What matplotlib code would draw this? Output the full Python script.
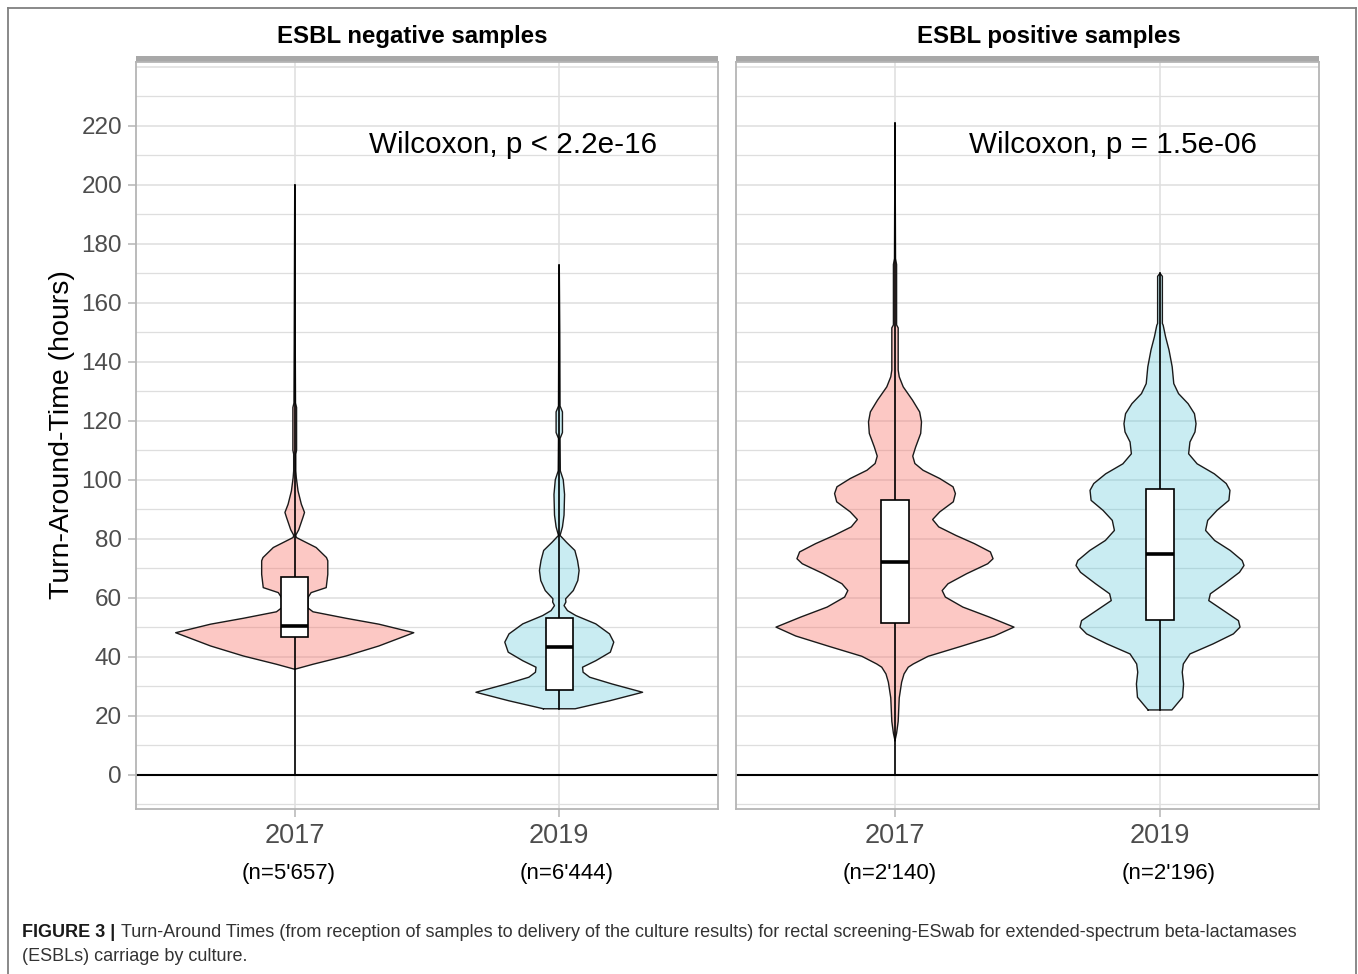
import matplotlib
matplotlib.use('Agg')
import matplotlib.pyplot as plt
from matplotlib.patches import Rectangle
from matplotlib.lines import Line2D

plt.rcParams['font.family'] = ['Liberation Sans', 'DejaVu Sans']

# ---- data ----
panel_titles = ['ESBL negative samples', 'ESBL positive samples']
years = ['2017', '2019']
n_labels = [["(n=5'657)", "(n=6'444)"], ["(n=2'140)", "(n=2'196)"]]
p_labels = ['Wilcoxon, p < 2.2e-16', 'Wilcoxon, p = 1.5e-06']

# violin outlines: TAT value (hours) and half-width (in category units)
neg17_y = [35.7, 37.4, 40.2, 43.6, 48.1, 51.0, 53.0, 55.2, 56.5, 60.0, 61.7, 63.4, 67.9,
           72.5, 73.6, 77.0, 80.4, 81.2, 83.0, 87.2, 88.9, 91.7, 96.2, 100.7, 103.0,
           108.7, 110.0, 124.5, 126.0, 146.0, 200.0]
neg17_w = [0.0, 0.069, 0.194, 0.318, 0.45, 0.318, 0.194, 0.069, 0.05, 0.05, 0.062, 0.119, 0.125,
           0.125, 0.12, 0.081, 0.006, 0.004, 0.015, 0.031, 0.037, 0.025, 0.0125, 0.006, 0.004,
           0.004, 0.007, 0.007, 0.003, 0.002, 0.0]

neg19_y = [22.3, 25.0, 27.9, 30.7, 33.0, 34.7, 36.4, 38.6, 41.5, 44.9, 47.7, 51.1, 53.9, 55.6,
           57.3, 58.5, 59.6, 62.4, 65.8, 69.2, 72.6, 76.0, 78.8, 81.1, 84.0, 88.0, 95.0, 100.0,
           103.0, 114.0, 116.0, 123.0, 125.0, 150.0, 172.8]
neg19_w = [0.06, 0.19, 0.315, 0.2, 0.115, 0.09, 0.088, 0.138, 0.193, 0.206, 0.19, 0.138, 0.063, 0.031,
           0.018, 0.025, 0.024, 0.053, 0.07, 0.075, 0.069, 0.059, 0.027, 0.003, 0.012, 0.018, 0.02, 0.015,
           0.004, 0.003, 0.012, 0.012, 0.003, 0.002, 0.0]

pos17_y = [11.5, 14.0, 18.0, 26.0, 31.3, 34.1, 36.4, 37.5, 40.1, 43.5, 47.0, 50.0, 53.4, 56.8,
           60.2, 62.4, 64.7, 68.1, 71.5, 73.2, 75.5, 78.3, 81.1, 84.0, 86.5, 89.1, 92.5, 95.3,
           97.6, 100.4, 103.2, 105.5, 108.0, 111.1, 115.7, 119.6, 123.0, 127.0, 131.5, 134.9,
           137.2, 151.5, 152.5, 173.0, 175.0, 221.0]
pos17_w = [0.0, 0.006, 0.012, 0.016, 0.025, 0.034, 0.05, 0.069, 0.125, 0.25, 0.375, 0.449, 0.356, 0.256,
           0.19, 0.178, 0.2, 0.27, 0.35, 0.37, 0.36, 0.3, 0.23, 0.165, 0.142, 0.169, 0.22, 0.228,
           0.219, 0.169, 0.106, 0.075, 0.067, 0.078, 0.097, 0.1, 0.093, 0.066, 0.031, 0.016,
           0.012, 0.012, 0.006, 0.006, 0.002, 0.0]

pos19_y = [21.9, 23.4, 26.2, 30.7, 34.7, 37.5, 40.9, 44.3, 47.7, 50.0, 52.2, 55.6, 59.0, 61.3,
           64.7, 68.6, 70.9, 72.6, 76.0, 79.4, 82.8, 86.2, 89.6, 93.0, 96.4, 98.7, 102.0, 105.4,
           108.8, 112.8, 116.2, 119.0, 122.4, 125.8, 129.2, 132.6, 138.3, 144.0, 148.5, 152.4,
           153.0, 169.0, 170.0]
pos19_w = [0.045, 0.059, 0.085, 0.089, 0.084, 0.088, 0.113, 0.2, 0.277, 0.302, 0.296, 0.24, 0.184, 0.19,
           0.243, 0.3, 0.317, 0.31, 0.265, 0.206, 0.172, 0.18, 0.215, 0.26, 0.264, 0.25, 0.205, 0.14,
           0.108, 0.113, 0.132, 0.136, 0.13, 0.106, 0.07, 0.052, 0.046, 0.034, 0.021, 0.012,
           0.009, 0.009, 0.0]

# box: q1, median, q3 ; line: min, max
neg17_box = [46.8, 50.4, 67.1]
neg19_box = [28.8, 43.2, 53.0]
pos17_box = [51.3, 72.1, 93.0]
pos19_box = [52.5, 74.8, 96.9]
neg17_range = [0.0, 200.0]
neg19_range = [22.3, 172.8]
pos17_range = [0.0, 221.0]
pos19_range = [21.9, 170.0]

fills = [('#F8766D', 0.4), ('#5BC8D9', 0.33)]

panels = [
    [(neg17_y, neg17_w, neg17_box, neg17_range), (neg19_y, neg19_w, neg19_box, neg19_range)],
    [(pos17_y, pos17_w, pos17_box, pos17_range), (pos19_y, pos19_w, pos19_box, pos19_range)],
]

W, H = 1358, 974
fig = plt.figure(figsize=(W / 100, H / 100), dpi=100)


def fx(px):
    return px / W


def fy(py):
    return 1 - py / H


panel_px = [(136, 718), (736, 1319)]
title_px = [412, 1049]
n_dx = [[-0.022, 0.027], [-0.019, 0.034]]  # small label shifts seen in the figure
top, bottom = 62, 809
grid_col = '#DEDEDE'
frame_col = '#B5B5B5'

for i, (x0, x1) in enumerate(panel_px):
    ax = fig.add_axes([fx(x0), fy(bottom), (x1 - x0) / W, (bottom - top) / H])
    ax.set_xlim(0.4, 2.6)
    ax.set_ylim(-11.7, 241.7)

    for v in range(-10, 241, 10):
        ax.axhline(v, color=grid_col, lw=1.1 if v % 20 == 0 else 0.9, zorder=0)
    for pos in (1, 2):
        ax.axvline(pos, color=grid_col, lw=1.1, zorder=0)
    ax.axhline(0, color='black', lw=1.5, zorder=1)

    for j, (vy, vw, box, rng) in enumerate(panels[i]):
        pos = j + 1
        xs = [pos - w for w in vw] + [pos + w for w in vw[::-1]]
        ys = list(vy) + list(vy[::-1])
        col, a = fills[j]
        ax.fill(xs, ys, facecolor=col, alpha=a, edgecolor='none', zorder=2)
        ax.plot(xs + [xs[0]], ys + [ys[0]], color='#1a1a1a', lw=1.0, zorder=2.5)
        ax.plot([pos, pos], rng, color='black', lw=1.2, zorder=3)
        q1, med, q3 = box
        ax.add_patch(Rectangle((pos - 0.052, q1), 0.104, q3 - q1, facecolor='white',
                               edgecolor='black', lw=1.2, zorder=4))
        ax.plot([pos - 0.052, pos + 0.052], [med, med], color='black', lw=2.6,
                solid_capstyle='butt', zorder=5)
        ax.text(pos + n_dx[i][j], -0.087, n_labels[i][j], transform=ax.get_xaxis_transform(),
                ha='center', va='center', fontsize=16, color='black')

    ax.text(1.28, 211, p_labels[i], fontsize=21.3, ha='left', va='baseline', color='black')

    ax.set_xticks([1, 2])
    ax.set_xticklabels(years, fontsize=19.5, color='#4D4D4D')
    ax.set_yticks(range(0, 221, 20))
    ax.set_yticklabels([str(v) for v in range(0, 221, 20)], fontsize=17.5, color='#4D4D4D')
    ax.tick_params(color=frame_col, length=6, width=1.1, pad=4)
    if i == 1:
        ax.tick_params(axis='y', left=False, labelleft=False)
    for s in ax.spines.values():
        s.set_color(frame_col)
        s.set_linewidth(1.3)
    ax.add_patch(Rectangle((0, 1), 1, 6 / (bottom - top), transform=ax.transAxes,
                           facecolor='#A8A8A8', edgecolor='none', clip_on=False))

    fig.text(fx(title_px[i]), fy(43), panel_titles[i], fontsize=17.3, fontweight='bold',
             ha='center', va='baseline')

fig.text(fx(62), fy(435), 'Turn-Around-Time (hours)', rotation=90, fontsize=20.5,
         ha='center', va='center')

# outer frame
for xs_, ys_ in [([7.5, 7.5], [974, 8]), ([7.5, 1355.5], [8, 8]), ([1355.5, 1355.5], [8, 974])]:
    fig.add_artist(Line2D([fx(x) for x in xs_], [fy(y) for y in ys_], color='#808080', lw=1.3))

# caption
cap_size = 13
t1 = fig.text(fx(22), fy(937), 'FIGURE 3 |', fontsize=cap_size, fontweight='bold', ha='left',
              va='baseline', color='#1a1a1a')
fig.add_artist(plt.Annotation(
    'Turn-Around Times (from reception of samples to delivery of the culture results) '
    'for rectal screening-ESwab for extended-spectrum beta-lactamases',
    xy=(1, 0), xycoords=t1, xytext=(4, 0), textcoords='offset points',
    fontsize=cap_size, ha='left', va='bottom', color='#333333'))
fig.text(fx(22), fy(961), '(ESBLs) carriage by culture.', fontsize=cap_size, ha='left',
         va='baseline', color='#333333')

fig.savefig('out.png', dpi=100)
